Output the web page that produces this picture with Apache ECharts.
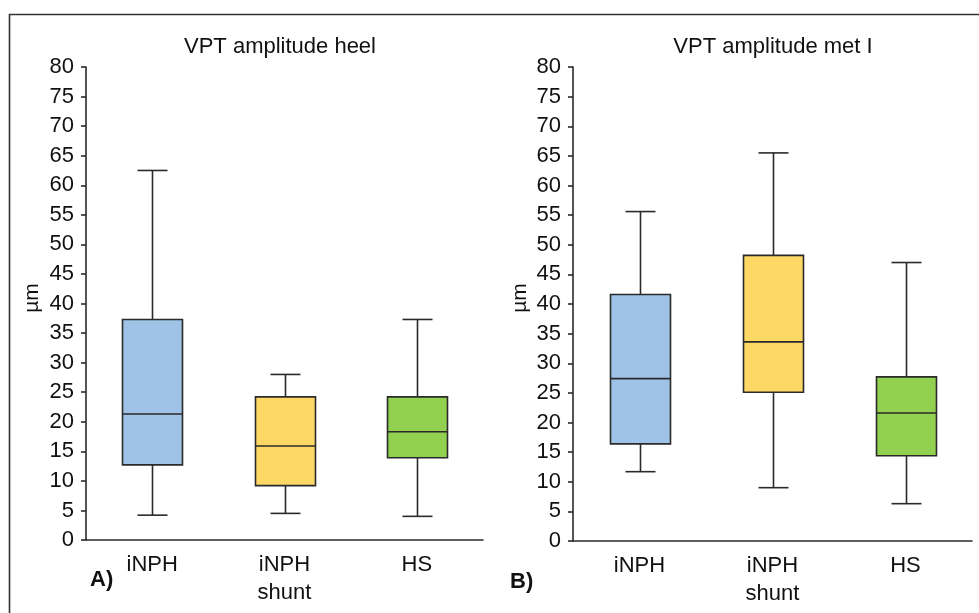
<!DOCTYPE html>
<html>
<head>
<meta charset="utf-8">
<script src="https://cdn.jsdelivr.net/npm/echarts@6/dist/echarts.min.js"></script>
<style>
html,body{margin:0;padding:0;background:#fff;}
#c{width:979px;height:613px;}
</style>
</head>
<body>
<div id="c"></div>
<script>
// ---- data ----
const categories = ['iNPH', 'iNPH\nshunt', 'HS'];
const yTicks = [0,5,10,15,20,25,30,35,40,45,50,55,60,65,70,75,80];
// [min, Q1, median, Q3, max]
const heelINPH  = [4.2, 12.7, 21.3, 37.3, 62.5];
const heelShunt = [4.5, 9.2, 15.9, 24.2, 28.0];
const heelHS    = [4.0, 13.9, 18.3, 24.2, 37.3];
const metINPH   = [11.7, 16.4, 27.4, 41.6, 55.6];
const metShunt  = [9.0, 25.1, 33.6, 48.2, 65.5];
const metHS     = [6.3, 14.4, 21.6, 27.7, 47.0];
const titles = ['VPT amplitude heel', 'VPT amplitude met I'];
const panelLabels = ['A)', 'B)'];
const yName = 'µm';
const boxColors = ['#9fc3e6', '#fdd865', '#92d050'];

const FONT = '"Liberation Sans", Arial, sans-serif';
const chart = echarts.init(document.getElementById('c'));

function renderBox(params, api) {
  const x = api.value(0);
  const lo = api.coord([x, api.value(1)]);
  const q1 = api.coord([x, api.value(2)]);
  const md = api.coord([x, api.value(3)]);
  const q3 = api.coord([x, api.value(4)]);
  const hi = api.coord([x, api.value(5)]);
  const bw = 60, cw = 30;
  const cx = Math.round(lo[0]) + 0.5;
  const ls = {stroke: '#2a2a2a', lineWidth: 1.6};
  return {
    type: 'group',
    children: [
      {type: 'line', shape: {x1: cx, y1: q3[1], x2: cx, y2: hi[1]}, style: ls},
      {type: 'line', shape: {x1: cx, y1: q1[1], x2: cx, y2: lo[1]}, style: ls},
      {type: 'line', shape: {x1: cx - cw/2, y1: hi[1], x2: cx + cw/2, y2: hi[1]}, style: ls},
      {type: 'line', shape: {x1: cx - cw/2, y1: lo[1], x2: cx + cw/2, y2: lo[1]}, style: ls},
      {type: 'rect', shape: {x: cx - bw/2, y: q3[1], width: bw, height: q1[1] - q3[1]},
        style: {fill: boxColors[params.dataIndex], stroke: '#2a2a2a', lineWidth: 1.6}},
      {type: 'line', shape: {x1: cx - bw/2, y1: md[1], x2: cx + bw/2, y2: md[1]}, style: ls}
    ]
  };
}

function toData(arrs) {
  return arrs.map((a, i) => [i, a[0], a[1], a[2], a[3], a[4]]);
}

const grids = [
  {left: 86, top: 67, width: 397, height: 473},
  {left: 573, top: 67, width: 399, height: 474}
];

function xAxis(gi) {
  return {
    type: 'category', gridIndex: gi, data: categories, boundaryGap: true,
    axisLine: {lineStyle: {color: '#2a2a2a', width: 1.6}},
    axisTick: {inside: true, length: 6, alignWithLabel: true, lineStyle: {color: '#2a2a2a', width: 1.6}},
    axisLabel: {color: '#111', fontSize: 22, fontFamily: FONT, margin: 11, lineHeight: 28}
  };
}
function yAxis(gi) {
  return {
    type: 'value', gridIndex: gi, min: yTicks[0], max: yTicks[yTicks.length - 1], interval: 5,
    splitLine: {show: false},
    axisLine: {show: true, lineStyle: {color: '#2a2a2a', width: 1.6}},
    axisTick: {show: true, length: 5, lineStyle: {color: '#2a2a2a', width: 1.6}},
    axisLabel: {color: '#111', fontSize: 22, fontFamily: FONT, margin: 12}
  };
}

const textStyle = (extra) => Object.assign({fill: '#111', fontFamily: FONT, fontSize: 20}, extra);

chart.setOption({
  animation: false,
  backgroundColor: '#fff',
  grid: grids,
  xAxis: [xAxis(0), xAxis(1)],
  yAxis: [yAxis(0), yAxis(1)],
  series: [
    {type: 'custom', xAxisIndex: 0, yAxisIndex: 0, renderItem: renderBox,
      data: toData([heelINPH, heelShunt, heelHS]), encode: {x: 0, y: [1,2,3,4,5]}},
    {type: 'custom', xAxisIndex: 1, yAxisIndex: 1, renderItem: renderBox,
      data: toData([metINPH, metShunt, metHS]), encode: {x: 0, y: [1,2,3,4,5]}}
  ],
  graphic: [
    {type: 'rect', shape: {x: 9.5, y: 14.5, width: 1100, height: 700}, silent: true,
      style: {fill: 'none', stroke: '#333', lineWidth: 1.6}},
    {type: 'text', x: 280, y: 47, style: textStyle({text: titles[0], fontSize: 22, align: 'center', verticalAlign: 'middle'})},
    {type: 'text', x: 773, y: 47, style: textStyle({text: titles[1], fontSize: 22, align: 'center', verticalAlign: 'middle'})},
    {type: 'text', x: 32, y: 298, rotation: Math.PI / 2,
      style: textStyle({text: yName, fontSize: 21, align: 'center', verticalAlign: 'middle'})},
    {type: 'text', x: 520, y: 298, rotation: Math.PI / 2,
      style: textStyle({text: yName, fontSize: 21, align: 'center', verticalAlign: 'middle'})},
    {type: 'text', x: 90, y: 580, style: textStyle({text: panelLabels[0], fontSize: 22, fontWeight: 'bold', verticalAlign: 'middle'})},
    {type: 'text', x: 510, y: 582, style: textStyle({text: panelLabels[1], fontSize: 22, fontWeight: 'bold', verticalAlign: 'middle'})}
  ]
});
</script>
</body>
</html>
